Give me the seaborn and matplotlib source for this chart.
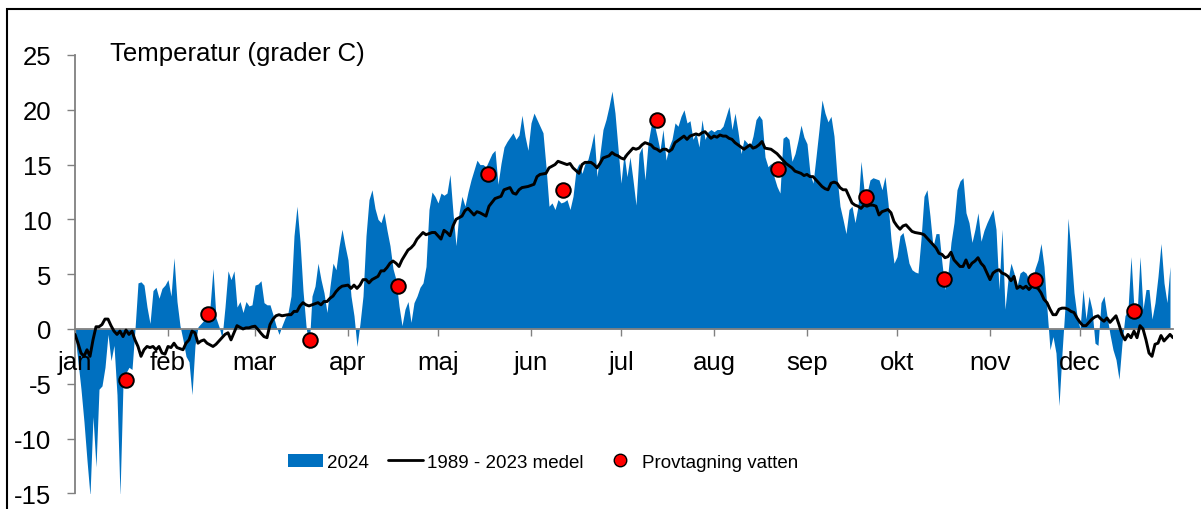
import matplotlib
matplotlib.use("Agg")
import matplotlib.pyplot as plt
import seaborn as sns
import numpy as np
from matplotlib.patches import Patch, Rectangle
from matplotlib.lines import Line2D

# daily mean temperature 2024, day 0 = 1 jan
temp_2024 = [
    -0.5, -3.0, -5.5, -8.5, -12.0, -15.2, -8.0, -12.6, -5.5, -5.2,
    -3.5, -0.5, -2.9, -1.5, -6.0, -15.2, -5.0, -4.0, -3.5, -3.7,
    0.0, 4.2, 4.3, 4.0, 2.0, 0.5, 3.5, 3.8, 2.8, 3.7,
    4.0, 4.5, 3.0, 6.5, 2.5, 0.3, -1.0, -2.5, -3.0, -6.0,
    -1.5, 0.2, 0.5, 0.8, 1.0, 2.0, 5.5, 1.0, 0.2, -0.8,
    2.0, 5.3, 4.5, 5.3, 2.0, 2.5, 1.5, 2.5, 2.1, 2.2,
    4.0, 4.1, 4.4, 2.4, 2.2, 2.2, 1.3, 0.3, -0.5, 0.3,
    1.0, 1.5, 3.0, 8.5, 11.2, 8.0, 3.5, 0.3, -1.9, 3.0,
    3.9, 6.0, 4.5, 3.3, 1.5, 3.9, 6.0, 5.4, 7.5, 9.1,
    7.6, 6.3, 3.0, 1.2, -1.6, 0.5, 3.0, 8.5, 11.8, 12.7,
    11.0, 10.0, 9.7, 10.6, 9.0, 7.6, 5.5, 4.5, 2.1, 0.3,
    1.8, 2.5, 0.6, 2.4, 3.0, 3.8, 4.2, 5.7, 10.9, 12.5,
    12.1, 11.5, 12.4, 12.2, 12.4, 14.1, 10.6, 7.6, 10.6, 12.1,
    11.2, 12.5, 13.6, 14.5, 15.4, 15.0, 15.0, 14.8, 15.4, 16.0,
    16.3, 13.2, 15.1, 16.6, 17.1, 17.5, 17.9, 17.3, 17.7, 19.5,
    17.6, 16.3, 18.8, 19.7, 19.1, 18.5, 17.9, 14.8, 11.2, 11.5,
    10.9, 11.8, 11.5, 11.6, 11.8, 10.9, 12.1, 14.5, 15.1, 14.2,
    15.1, 15.5, 16.6, 17.9, 13.9, 16.0, 18.2, 19.1, 20.3, 21.7,
    19.7, 16.5, 13.3, 16.0, 13.9, 15.7, 13.6, 11.3, 16.0, 16.6,
    13.6, 16.9, 18.5, 18.8, 17.6, 16.3, 18.2, 15.4, 16.6, 17.3,
    18.8, 18.5, 19.4, 20.0, 18.8, 19.0, 17.3, 17.9, 16.6, 19.1,
    17.3, 18.0, 18.2, 18.0, 18.2, 18.2, 18.5, 19.4, 20.3, 18.2,
    19.7, 18.0, 16.0, 17.3, 17.0, 16.6, 17.6, 19.1, 19.5, 19.1,
    15.7, 14.8, 15.1, 13.9, 13.0, 12.4, 17.4, 17.6, 17.3, 15.3,
    16.0, 17.2, 18.6, 17.5, 16.9, 14.2, 13.3, 15.7, 18.2, 20.9,
    19.7, 18.9, 19.4, 17.6, 13.9, 11.2, 10.0, 8.7, 10.9, 11.2,
    9.7, 11.2, 15.3, 12.7, 12.4, 13.6, 13.8, 13.7, 13.6, 12.7,
    13.9, 11.5, 8.2, 6.0, 6.6, 8.5, 8.8, 7.5, 6.0, 5.4,
    5.2, 5.1, 8.2, 12.1, 12.7, 10.3, 7.5, 8.7, 8.7, 6.0,
    3.6, 5.1, 7.9, 9.7, 12.7, 13.5, 13.8, 10.6, 9.7, 7.9,
    9.1, 10.6, 8.0, 9.0, 9.7, 10.3, 10.9, 9.1, 3.6, 9.1,
    1.8, 4.5, 6.0, 5.1, 3.9, 5.1, 5.3, 5.1, 4.5, 4.2,
    5.5, 6.3, 7.8, 5.7, 1.8, -1.9, -0.7, -2.2, -7.0, -2.2,
    2.0, 10.1, 7.0, 3.3, 1.2, 0.0, 3.6, 0.9, 3.0, 1.8,
    -1.3, -1.5, 2.4, 3.0, 1.2, -0.5, -1.9, -2.8, -4.6, -1.3,
    1.2, 1.8, 6.6, 1.8, 1.2, 6.6, 1.8, 3.6, 3.6, 0.9,
    2.4, 4.8, 7.8, 4.2, 2.4, 5.7,
]
days_2024 = list(range(len(temp_2024)))

# 1989 - 2023 medel
avg_days = [
    0, 1, 2, 3, 4, 5, 6, 7, 8, 9, 10, 11, 12, 13, 14, 15, 16, 17, 18, 19,
    20, 21, 22, 23, 24, 25, 26, 27, 28, 29, 30, 31, 32, 33, 34, 36, 37, 38, 39, 40,
    41, 42, 43, 44, 46, 47, 48, 49, 50, 51, 52, 53, 54, 56, 57, 58, 59, 60, 61, 62,
    63, 64, 65, 66, 67, 68, 69, 71, 72, 73, 74, 75, 76, 77, 78, 79, 81, 82, 83, 84,
    85, 86, 87, 88, 89, 91, 92, 93, 94, 95, 96, 97, 98, 99, 101, 102, 103, 104, 105, 106,
    107, 108, 109, 111, 112, 113, 114, 115, 116, 117, 118, 119, 120, 121, 122, 123, 124, 125, 126, 127,
    129, 130, 131, 132, 133, 134, 135, 137, 138, 140, 142, 143, 145, 146, 147, 148, 149, 151, 153, 154,
    155, 157, 158, 160, 161, 163, 164, 165, 166, 168, 169, 170, 172, 173, 174, 175, 176, 178, 179, 180,
    181, 182, 183, 184, 185, 186, 187, 188, 189, 190, 192, 193, 194, 195, 196, 197, 198, 199, 200, 202,
    203, 204, 205, 206, 207, 208, 209, 210, 212, 213, 214, 215, 216, 217, 218, 219, 220, 222, 223, 224,
    225, 226, 227, 228, 229, 230, 232, 233, 234, 235, 236, 237, 238, 239, 240, 241, 242, 243, 244, 245,
    246, 247, 248, 249, 250, 251, 252, 253, 254, 255, 256, 257, 258, 259, 260, 261, 262, 263, 264, 265,
    266, 267, 268, 269, 270, 271, 272, 273, 274, 275, 276, 277, 278, 279, 280, 282, 283, 284, 285, 286,
    287, 288, 289, 290, 291, 292, 293, 294, 295, 296, 297, 298, 299, 300, 301, 302, 303, 304, 305, 306,
    307, 308, 309, 310, 311, 312, 313, 314, 315, 316, 317, 318, 319, 320, 321, 322, 323, 324, 325, 326,
    327, 328, 329, 330, 331, 332, 333, 334, 335, 336, 337, 338, 339, 340, 341, 342, 343, 344, 345, 346,
    347, 348, 349, 350, 351, 352, 353, 354, 355, 356, 357, 358, 359, 360, 361, 362, 363, 364, 365, 366,
]
avg_temp = [
    -0.5, -1.3, -2.2, -2.5, -1.9, -2.5, -1.0, 0.2, 0.2, 0.4, 0.9, 0.9, 0.3, -0.2, -0.5, -0.2, -0.7, -0.1, -0.5, -0.2,
    -1.0, -1.6, -2.5, -1.9, -1.6, -1.7, -1.6, -1.9, -1.6, -2.2, -2.3, -1.6, -1.7, -1.3, -1.7, -1.9, -1.3, -1.0, -0.2, -0.35,
    -1.3, -1.1, -1.0, -1.3, -1.6, -1.4, -1.1, -0.8, -0.5, -0.35, -1.0, -0.35, 0.3, 0.0, 0.1, 0.1, 0.2, 0.25, -0.05, -0.4,
    -0.7, -0.8, 0.4, 0.9, 1.2, 1.3, 1.2, 1.3, 1.3, 1.6, 1.6, 2.1, 2.4, 2.2, 2.1, 2.2, 2.4, 2.2, 2.5, 2.5,
    2.8, 3.0, 3.4, 3.7, 3.9, 4.0, 3.7, 4.0, 3.7, 4.0, 4.5, 4.5, 4.2, 4.5, 4.8, 5.3, 5.3, 5.6, 6.0, 6.2,
    6.0, 5.7, 6.3, 7.2, 7.4, 7.7, 8.2, 8.5, 8.8, 8.6, 8.7, 8.8, 8.8, 8.5, 8.2, 9.0, 8.8, 8.5, 9.4, 10.0,
    10.3, 10.8, 11.0, 10.7, 10.4, 10.7, 10.6, 10.3, 11.2, 11.9, 12.1, 12.7, 12.9, 12.4, 12.3, 12.7, 12.9, 13.0, 13.2, 13.9,
    14.1, 14.2, 14.7, 15.0, 15.3, 15.1, 15.0, 15.1, 14.7, 14.2, 15.0, 15.2, 15.2, 15.0, 14.7, 15.1, 15.6, 15.8, 16.1, 15.9,
    15.8, 15.6, 15.5, 15.9, 16.2, 16.5, 16.4, 16.5, 16.8, 17.0, 16.8, 16.5, 16.4, 16.2, 16.4, 16.4, 16.2, 16.4, 17.0, 17.4,
    17.6, 17.3, 17.6, 17.7, 17.8, 17.7, 17.9, 18.0, 17.4, 17.6, 17.5, 17.7, 17.6, 17.6, 17.4, 17.3, 17.0, 16.6, 16.4, 16.6,
    16.8, 16.5, 16.6, 16.8, 17.1, 16.5, 16.4, 16.2, 16.0, 15.7, 15.4, 15.1, 14.9, 14.7, 14.4, 14.3, 14.2, 14.0, 14.1, 13.9,
    13.9, 13.6, 13.3, 13.0, 12.8, 12.7, 13.3, 13.4, 13.3, 12.9, 12.7, 12.7, 12.1, 11.5, 11.3, 11.2, 11.0, 11.3, 11.2, 11.3,
    11.3, 11.2, 10.4, 10.7, 10.8, 10.9, 10.6, 9.8, 9.4, 9.1, 9.4, 9.5, 9.2, 8.9, 8.8, 8.7, 8.6, 8.3, 8.0, 7.7,
    7.4, 6.9, 6.8, 6.5, 6.6, 7.0, 6.3, 6.0, 5.7, 5.7, 6.3, 5.6, 6.0, 6.2, 6.5, 6.0, 5.7, 5.1, 4.5, 5.1,
    5.3, 5.4, 5.1, 5.0, 4.8, 4.4, 4.8, 3.7, 3.9, 3.7, 3.9, 3.6, 3.9, 3.8, 3.7, 3.3, 2.7, 2.4, 1.8, 1.3,
    1.3, 1.8, 1.9, 1.9, 1.8, 1.6, 1.5, 1.0, 0.6, 0.3, 0.3, 0.6, 0.9, 1.1, 1.2, 0.9, 0.7, 1.0, 0.6, 0.9,
    1.2, 0.4, -0.5, -1.0, -0.5, -0.8, -0.2, -0.8, 0.3, 0.0, -1.0, -2.2, -2.5, -1.4, -1.3, -0.6, -1.1, -0.8, -0.5, -0.8,
]

# Provtagning vatten
sample_days = [17, 44.2, 78.3, 107.6, 137.8, 162.8, 194.1, 234.4, 263.6, 289.7, 320, 353]
sample_temp = [-4.66, 1.32, -1.02, 3.96, 14.16, 12.65, 19.08, 14.59, 12.0, 4.57, 4.45, 1.68]

month_starts = [0, 31, 60, 91, 121, 152, 182, 213, 244, 274, 305, 335]
month_labels = ["jan", "feb", "mar", "apr", "maj", "jun", "jul", "aug", "sep", "okt", "nov", "dec"]
y_ticks = [-15, -10, -5, 0, 5, 10, 15, 20, 25]
y_labels = ["-15", "-10", "-5", "0", "5", "10", "15", "20", "25"]

sns.set_style("white")
plt.rcParams["font.family"] = ["Liberation Sans", "DejaVu Sans"]
plt.rcParams["text.color"] = "black"
plt.rcParams["xtick.color"] = "black"
plt.rcParams["ytick.color"] = "black"

blue = "#0070C0"
grey = "#808080"

fig = plt.figure(figsize=(12.01, 5.10), dpi=100)
ax = fig.add_axes([75 / 1201, 15.7 / 510, 1098 / 1201, 438.3 / 510])

ax.fill_between(days_2024, temp_2024, 0, color=blue, linewidth=0, interpolate=True, zorder=1)
sns.lineplot(x=avg_days, y=avg_temp, color="black", linewidth=2.1, sort=False,
             estimator=None, ax=ax, zorder=3)
sns.scatterplot(x=sample_days, y=sample_temp, color="red", edgecolor="black",
                s=110, linewidth=1.4, ax=ax, zorder=4)

ax.set_axisbelow(False)
ax.set_xlim(0, 366)
ax.set_ylim(-15, 25)
ax.set_yticks(y_ticks)
ax.set_yticklabels(y_labels)
ax.set_xticks(month_starts)
ax.set_xticklabels(month_labels)
ax.set_xlabel("")
ax.set_ylabel("")

for s in ["top", "right"]:
    ax.spines[s].set_visible(False)
ax.spines["bottom"].set_position(("data", 0))
for s in ["left", "bottom"]:
    ax.spines[s].set_color(grey)
    ax.spines[s].set_linewidth(1.3)
    ax.spines[s].set_zorder(2)

ax.tick_params(axis="y", direction="out", length=6, width=1, color=grey,
               labelcolor="black", pad=11, labelsize=18.5, left=True)
ax.tick_params(axis="x", direction="out", length=5, width=1, color=grey,
               labelcolor="black", pad=10, labelsize=18.5, bottom=True)

fig.text(110 / 1201, 1 - 61 / 510, "Temperatur (grader C)", fontsize=18.5,
         va="baseline", ha="left", color="black")

handles = [
    Patch(facecolor=blue, edgecolor="none"),
    Line2D([], [], color="black", linewidth=2.0),
    Line2D([], [], marker="o", linestyle="", markerfacecolor="red",
           markeredgecolor="black", markersize=9, markeredgewidth=1.0),
]
labels = ["2024", "1989 - 2023 medel", "Provtagning vatten"]
fig.legend(handles, labels, loc="center", bbox_to_anchor=(0.452, 0.092), ncol=3,
           frameon=False, handlelength=1.9, handletextpad=0.2, columnspacing=1.0,
           prop={"family": ["Liberation Sans", "DejaVu Sans"], "size": 13.5})

fig.add_artist(Rectangle((7 / 1201, -0.05), 1.2, 1.03, transform=fig.transFigure,
                         fill=False, edgecolor="black", linewidth=1.5))

plt.savefig("out.png", dpi=100)
plt.close("all")
